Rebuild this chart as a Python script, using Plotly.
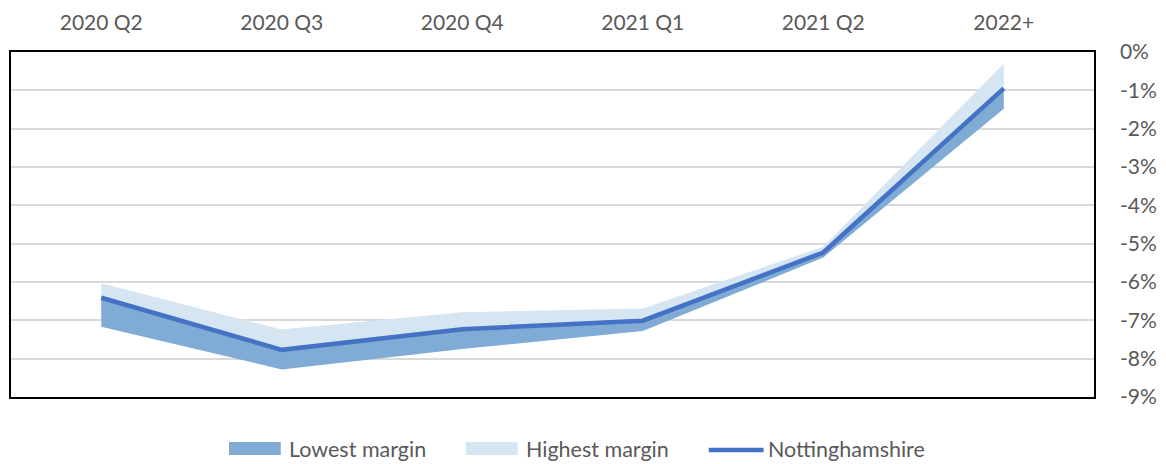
import plotly.graph_objects as go

# Quarterly margin outlook (percent)
categories = ["2020 Q2", "2020 Q3", "2020 Q4", "2021 Q1", "2021 Q2", "2022+"]
nottinghamshire = [-6.41, -7.77, -7.23, -7.01, -5.23, -0.95]
lowest_margin = [-7.17, -8.28, -7.75, -7.28, -5.36, -1.48]
highest_margin = [-6.03, -7.24, -6.79, -6.69, -5.08, -0.30]

tick_values = [0, -1, -2, -3, -4, -5, -6, -7, -8, -9]
tick_labels = ["0%", "-1%", "-2%", "-3%", "-4%", "-5%", "-6%", "-7%", "-8%", "-9%"]

FONT = "Lato, Carlito, Calibri, sans-serif"
TEXT = "#595959"
LOW_FILL = "#7FABD4"
HIGH_FILL = "#D6E5F2"
LINE = "#4472C4"

fig = go.Figure()

# base of the lower band
fig.add_trace(go.Scatter(
    x=categories, y=lowest_margin, mode="lines",
    line=dict(width=0, color="rgba(0,0,0,0)"),
    showlegend=False, hoverinfo="skip",
))
# band from the lowest margin up to the central line
fig.add_trace(go.Scatter(
    x=categories, y=nottinghamshire, mode="lines", name="Lowest margin",
    line=dict(width=0, color=LOW_FILL),
    fill="tonexty", fillcolor=LOW_FILL, showlegend=False,
))
# band from the central line up to the highest margin
fig.add_trace(go.Scatter(
    x=categories, y=highest_margin, mode="lines", name="Highest margin",
    line=dict(width=0, color=HIGH_FILL),
    fill="tonexty", fillcolor=HIGH_FILL, showlegend=False,
))
fig.add_trace(go.Scatter(
    x=categories, y=nottinghamshire, mode="lines", name="Nottinghamshire",
    line=dict(width=4.5, color=LINE), showlegend=False,
))

# legend row below the plot: wide swatches like a spreadsheet legend
legend_y = -0.151
swatches = [
    ("Lowest margin", LOW_FILL, "rect", 0.2013, 0.2491, 0.2546),
    ("Highest margin", HIGH_FILL, "rect", 0.4200, 0.4678, 0.4733),
    ("Nottinghamshire", LINE, "line", 0.6443, 0.6949, 0.6967),
]
for label, color, kind, x0, x1, tx in swatches:
    if kind == "rect":
        fig.add_shape(type="rect", xref="paper", yref="paper",
                      x0=x0, x1=x1, y0=-0.1304, y1=-0.1681,
                      fillcolor=color, line=dict(width=0))
    else:
        fig.add_shape(type="line", xref="paper", yref="paper",
                      x0=x0, x1=x1, y0=-0.1536, y1=-0.1536,
                      line=dict(color=color, width=4.5))
    fig.add_annotation(text=label, xref="paper", yref="paper",
                       x=tx, y=legend_y, xanchor="left", yanchor="middle",
                       showarrow=False,
                       font=dict(family=FONT, size=21.5, color=TEXT))

fig.update_layout(
    width=1166, height=464,
    margin=dict(l=9, r=69, t=52, b=67),
    paper_bgcolor="white", plot_bgcolor="white",
    font=dict(family=FONT, size=21, color=TEXT),
    showlegend=False,
)

fig.update_xaxes(
    type="category", side="top", range=[-0.5, 5.5],
    showgrid=False, zeroline=False,
    showline=True, mirror=True, linecolor="black", linewidth=1.5,
    ticks="", ticklabelstandoff=12,
    tickfont=dict(family=FONT, size=21, color=TEXT),
)
fig.update_yaxes(
    side="right", range=[-9, 0],
    tickvals=tick_values, ticktext=tick_labels,
    showgrid=True, gridcolor="#D9D9D9", gridwidth=1.5,
    zeroline=False,
    showline=True, mirror=True, linecolor="black", linewidth=1.5,
    ticks="", ticklabelstandoff=20,
    tickfont=dict(family=FONT, size=21, color=TEXT),
)

fig.write_html("out.html")
